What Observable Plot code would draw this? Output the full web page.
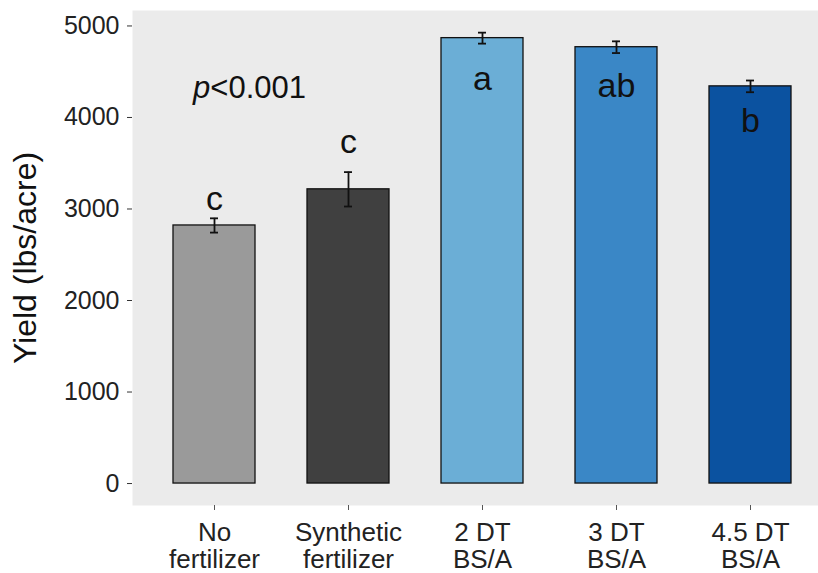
<!DOCTYPE html>
<html>
<head>
<meta charset="utf-8">
<script src="https://cdn.jsdelivr.net/npm/d3@7"></script>
<script src="https://cdn.jsdelivr.net/npm/@observablehq/plot@0.6"></script>
<style>
  html, body { margin: 0; padding: 0; background: #ffffff; overflow: hidden; }
  #chart svg { display: block; }
</style>
</head>
<body>
<div id="chart"></div>
<script>
// Data
const categories = ["No\nfertilizer", "Synthetic\nfertilizer", "2 DT\nBS/A", "3 DT\nBS/A", "4.5 DT\nBS/A"];
const yields = [2820, 3215, 4867, 4768, 4340];
const errors = [78, 188, 60, 64, 64];
const letters = ["c", "c", "a", "ab", "b"];
const letterY = [2990, 3607, 4295, 4222, 3839];
const barColors = ["#9A9A9A", "#404040", "#6BAED6", "#3A87C6", "#0B52A0"];
const yTicks = [0, 1000, 2000, 3000, 4000, 5000];
const pLabel = {x: categories[0], y: 4208};

const data = categories.map((c, i) => ({
  cat: c, y: yields[i], lo: yields[i] - errors[i], hi: yields[i] + errors[i],
  letter: letters[i], ly: letterY[i], color: barColors[i]
}));

const font = "'Liberation Sans', Arial, Helvetica, sans-serif";

const chart = Plot.plot({
  width: 818,
  height: 573,
  marginLeft: 132,
  marginRight: 0,
  marginTop: 10,
  marginBottom: 68,
  style: {fontFamily: font, background: "#ffffff", color: "#333333"},
  x: {type: "band", domain: categories, range: [131.7, 831.7], paddingInner: 0.39, paddingOuter: 0.295},
  y: {domain: [-240, 5169]},
  marks: [
    Plot.frame({fill: "#EBEBEB", stroke: null}),
    Plot.barY(data, {x: "cat", y: "y", fill: "color", stroke: "#111111", strokeWidth: 1.3}),
    Plot.ruleX(data, {x: "cat", y1: "lo", y2: "hi", stroke: "#111111", strokeWidth: 1.8}),
    Plot.tickY(data, {x: "cat", y: "lo", stroke: "#111111", strokeWidth: 1.8, insetLeft: 37, insetRight: 37}),
    Plot.tickY(data, {x: "cat", y: "hi", stroke: "#111111", strokeWidth: 1.8, insetLeft: 37, insetRight: 37}),
    Plot.text(data, {x: "cat", y: "ly", text: "letter", lineAnchor: "bottom", fontSize: 34, fill: "#111111"}),
    Plot.text([pLabel], {x: "x", y: "y", text: () => "p<0.001", lineAnchor: "bottom", dx: 35, fontSize: 31, fill: "#111111"}),
    Plot.axisY({
      ticks: yTicks, tickFormat: d => String(d), tickSize: 5, tickPadding: 8,
      fontSize: 25, stroke: "#333333", fill: "#222222",
      label: "Yield (lbs/acre)", labelAnchor: "center", labelArrow: "none", labelOffset: 119
    }),
    Plot.axisX({
      tickSize: 5, tickPadding: 11, fontSize: 26, fill: "#222222", stroke: "#555555",
      tickFormat: d => d, label: null, lineHeight: 1.05
    })
  ]
});

// italic "p" in the p-value label
d3.select(chart).selectAll("text").each(function() {
  const t = d3.select(this);
  if (t.text() === "p<0.001") {
    t.text(null);
    t.append("tspan").attr("font-style", "italic").text("p");
    t.append("tspan").text("<0.001");
  }
});
// axis title styling
d3.select(chart).selectAll("[aria-label='y-axis label'] text, [aria-label='y-axis label']")
  .attr("font-size", 32).attr("fill", "#111111");

document.getElementById("chart").appendChild(chart);
</script>
</body>
</html>
